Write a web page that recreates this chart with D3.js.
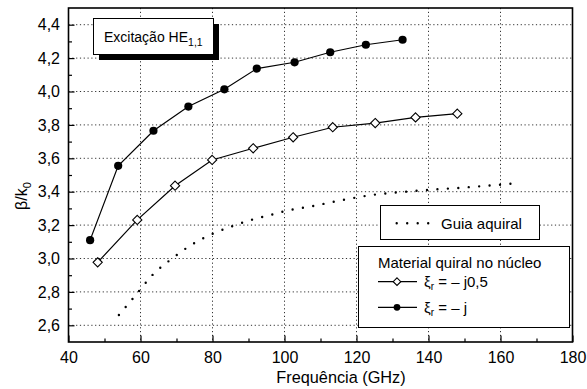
<!DOCTYPE html>
<html lang="pt">
<head>
  <meta charset="utf-8" />
  <title>Beta/k0 vs frequencia</title>
  <style>
    body { margin: 0; background: #fff; }
    svg  { display: block; font-family: "Liberation Sans", Arial, sans-serif; }
    .tick text { font-size: 16px; fill: #000; font-family: "Liberation Sans", Arial, sans-serif; }
  </style>
  <script src="https://cdn.jsdelivr.net/npm/d3@7"></script>
</head>
<body>
<script>

// data
const freqJ   = [46.0, 53.8, 63.6, 73.3, 83.3, 92.3, 102.8, 112.7, 122.6, 132.8];
const betaJ   = [3.11, 3.555, 3.765, 3.91, 4.013, 4.137, 4.175, 4.235, 4.28, 4.31];

const freqJ05 = [48.1, 59.1, 69.6, 79.9, 91.3, 102.4, 113.4, 125.2, 136.4, 148.0];
const betaJ05 = [2.977, 3.231, 3.436, 3.59, 3.66, 3.726, 3.786, 3.811, 3.845, 3.867];

// guia aquiral (dotted curve)
const freqAq  = [54.0, 58.7, 63.3, 68.6, 74.1, 79.7, 85.4, 90.9, 96.4, 99.7, 107.6, 115.9, 124.2, 132.5, 140.9, 149.2, 157.6, 163.1];
const betaAq  = [2.662, 2.781, 2.901, 2.997, 3.081, 3.145, 3.193, 3.232, 3.262, 3.282, 3.313, 3.349, 3.380, 3.398, 3.412, 3.424, 3.438, 3.448];

const xTicks = [40, 60, 80, 100, 120, 140, 160, 180];
const yTicks = [2.6, 2.8, 3.0, 3.2, 3.4, 3.6, 3.8, 4.0, 4.2, 4.4];

// dimensions
const margin = {top: 8, right: 14.5, bottom: 47, left: 68.5},
    width  = 587 - margin.left - margin.right,
    height = 389 - margin.top - margin.bottom;

const root = d3.select("body").append("svg")
    .attr("width", 587)
    .attr("height", 389);

const svg = root.append("g")
    .attr("transform", `translate(${margin.left}, ${margin.top})`);

const x = d3.scaleLinear().domain([40, 180]).range([0, width]);
const y = d3.scaleLinear().domain([2.5, 4.5]).range([height, 0]);

const comma = d => d3.format(".1f")(d).replace(".", ",");

// dotted grid
svg.append("g")
  .selectAll("line")
  .data(xTicks.filter(d => d > 40 && d < 180))
  .join("line")
    .attr("x1", d => x(d)).attr("x2", d => x(d))
    .attr("y1", 0).attr("y2", height)
    .attr("stroke", "#333").attr("stroke-width", 1)
    .attr("stroke-dasharray", "1.2,2.6");

svg.append("g")
  .selectAll("line")
  .data(yTicks)
  .join("line")
    .attr("x1", 0).attr("x2", width)
    .attr("y1", d => y(d)).attr("y2", d => y(d))
    .attr("stroke", "#333").attr("stroke-width", 1)
    .attr("stroke-dasharray", "1.2,2.6");

// minor ticks
svg.append("g")
  .attr("transform", `translate(0, ${height})`)
  .call(d3.axisBottom(x).tickValues(d3.range(50, 180, 20)).tickSize(-3.5).tickFormat(""))
  .call(g => g.select(".domain").remove());

svg.append("g")
  .call(d3.axisLeft(y).tickValues(d3.range(2.7, 4.5, 0.2)).tickSize(-3.5).tickFormat(""))
  .call(g => g.select(".domain").remove());

// major ticks + labels
svg.append("g")
  .attr("transform", `translate(0, ${height})`)
  .call(d3.axisBottom(x).tickValues(xTicks).tickSize(-6.5).tickPadding(10))
  .call(g => g.select(".domain").remove());

svg.append("g")
  .call(d3.axisLeft(y).tickValues(yTicks).tickSize(-6).tickPadding(8.5).tickFormat(comma))
  .call(g => g.select(".domain").remove());

svg.selectAll(".tick line").attr("stroke", "#000").attr("stroke-width", 1.2);

// frame
svg.append("rect")
    .attr("width", width).attr("height", height)
    .attr("fill", "none").attr("stroke", "#000").attr("stroke-width", 1.6);

// achiral guide, dotted
const aq = freqAq.map((f, i) => ({f: f, b: betaAq[i]}));
const aqPath = svg.append("path")
    .datum(aq)
    .attr("fill", "none")
    .attr("stroke", "#000")
    .attr("stroke-width", 2.4)
    .attr("stroke-linecap", "round")
    .attr("d", d3.line().curve(d3.curveMonotoneX).x(d => x(d.f)).y(d => y(d.b)));
// spread the dots so one lands on each end (tiny shrink keeps the last one)
const aqLen = aqPath.node().getTotalLength();
const aqGap = aqLen / Math.round(aqLen / 10.6) * 0.997;
aqPath.attr("stroke-dasharray", `0,${aqGap}`);

const line = d3.line().x(d => x(d.f)).y(d => y(d.b));
const diamond = s => `M0,${-s}L${s},0L0,${s}L${-s},0Z`;

// xi = -j0,5 (diamonds)
const s05 = freqJ05.map((f, i) => ({f: f, b: betaJ05[i]}));
svg.append("path").datum(s05)
    .attr("fill", "none").attr("stroke", "#000").attr("stroke-width", 1.2)
    .attr("d", line);
svg.selectAll("path.dia")
  .data(s05)
  .join("path")
    .attr("class", "dia")
    .attr("transform", d => `translate(${x(d.f)},${y(d.b)})`)
    .attr("d", diamond(4.6))
    .attr("fill", "#fff").attr("stroke", "#000").attr("stroke-width", 1.1);

// xi = -j (filled circles)
const s1 = freqJ.map((f, i) => ({f: f, b: betaJ[i]}));
svg.append("path").datum(s1)
    .attr("fill", "none").attr("stroke", "#000").attr("stroke-width", 1.2)
    .attr("d", line);
svg.selectAll("circle.pt")
  .data(s1)
  .join("circle")
    .attr("class", "pt")
    .attr("cx", d => x(d.f)).attr("cy", d => y(d.b))
    .attr("r", 4.1).attr("fill", "#000");

// axis titles
root.append("text")
    .attr("x", 341).attr("y", 382.5)
    .attr("text-anchor", "middle")
    .attr("font-size", "16.3px")
    .text("Frequência (GHz)");

const yt = root.append("text")
    .attr("transform", "translate(27,196) rotate(-90)")
    .attr("text-anchor", "middle")
    .attr("font-size", "16px");
yt.append("tspan").text("β/k");
yt.append("tspan").attr("font-size", "11px").attr("dy", 4).text("0");

// "Excitação HE1,1" box with shadow
root.append("rect")
    .attr("x", 99).attr("y", 24).attr("width", 120).attr("height", 36)
    .attr("fill", "#000");
root.append("rect")
    .attr("x", 93.5).attr("y", 18.5).attr("width", 120).attr("height", 36)
    .attr("fill", "#fff").attr("stroke", "#000").attr("stroke-width", 1);
const ex = root.append("text")
    .attr("x", 104).attr("y", 42)
    .attr("font-size", "14px");
ex.append("tspan").text("Excitação HE");
ex.append("tspan").attr("font-size", "10.5px").attr("dy", 4).text("1,1");

// legend: guia aquiral
root.append("rect")
    .attr("x", 380.5).attr("y", 205.5).attr("width", 159).attr("height", 34)
    .attr("fill", "#fff").attr("stroke", "#000").attr("stroke-width", 1);
root.append("line")
    .attr("x1", 396.7).attr("x2", 429).attr("y1", 223.3).attr("y2", 223.3)
    .attr("stroke", "#000").attr("stroke-width", 2.4)
    .attr("stroke-linecap", "round").attr("stroke-dasharray", "0,10.5");
root.append("text")
    .attr("x", 441).attr("y", 228.5)
    .attr("font-size", "15px")
    .text("Guia aquiral");

// legend: material quiral
root.append("rect")
    .attr("x", 358.5).attr("y", 246.5).attr("width", 211).attr("height", 81)
    .attr("fill", "#fff").attr("stroke", "#000").attr("stroke-width", 1);
root.append("text")
    .attr("x", 378).attr("y", 268)
    .attr("font-size", "15px")
    .text("Material quiral no núcleo");

const rows = [
  {y: 281.7, label: "j0,5", sym: "diamond"},
  {y: 307.3, label: "j",    sym: "circle"}
];
rows.forEach(r => {
  root.append("line")
      .attr("x1", 378).attr("x2", 417).attr("y1", r.y).attr("y2", r.y)
      .attr("stroke", "#000").attr("stroke-width", 1.2);
  if (r.sym === "diamond") {
    root.append("path")
        .attr("transform", `translate(397,${r.y})`)
        .attr("d", diamond(3.8))
        .attr("fill", "#fff").attr("stroke", "#000").attr("stroke-width", 1.1);
  } else {
    root.append("circle")
        .attr("cx", 397).attr("cy", r.y).attr("r", 3.4).attr("fill", "#000");
  }
  const t = root.append("text")
      .attr("x", 424).attr("y", r.y + 5.3)
      .attr("font-size", "15px");
  t.append("tspan").text("ξ");
  t.append("tspan").attr("font-size", "10px").attr("dy", 3).text("r");
  t.append("tspan").attr("dy", -3).text(" = – " + r.label);
});

</script>
</body>
</html>
